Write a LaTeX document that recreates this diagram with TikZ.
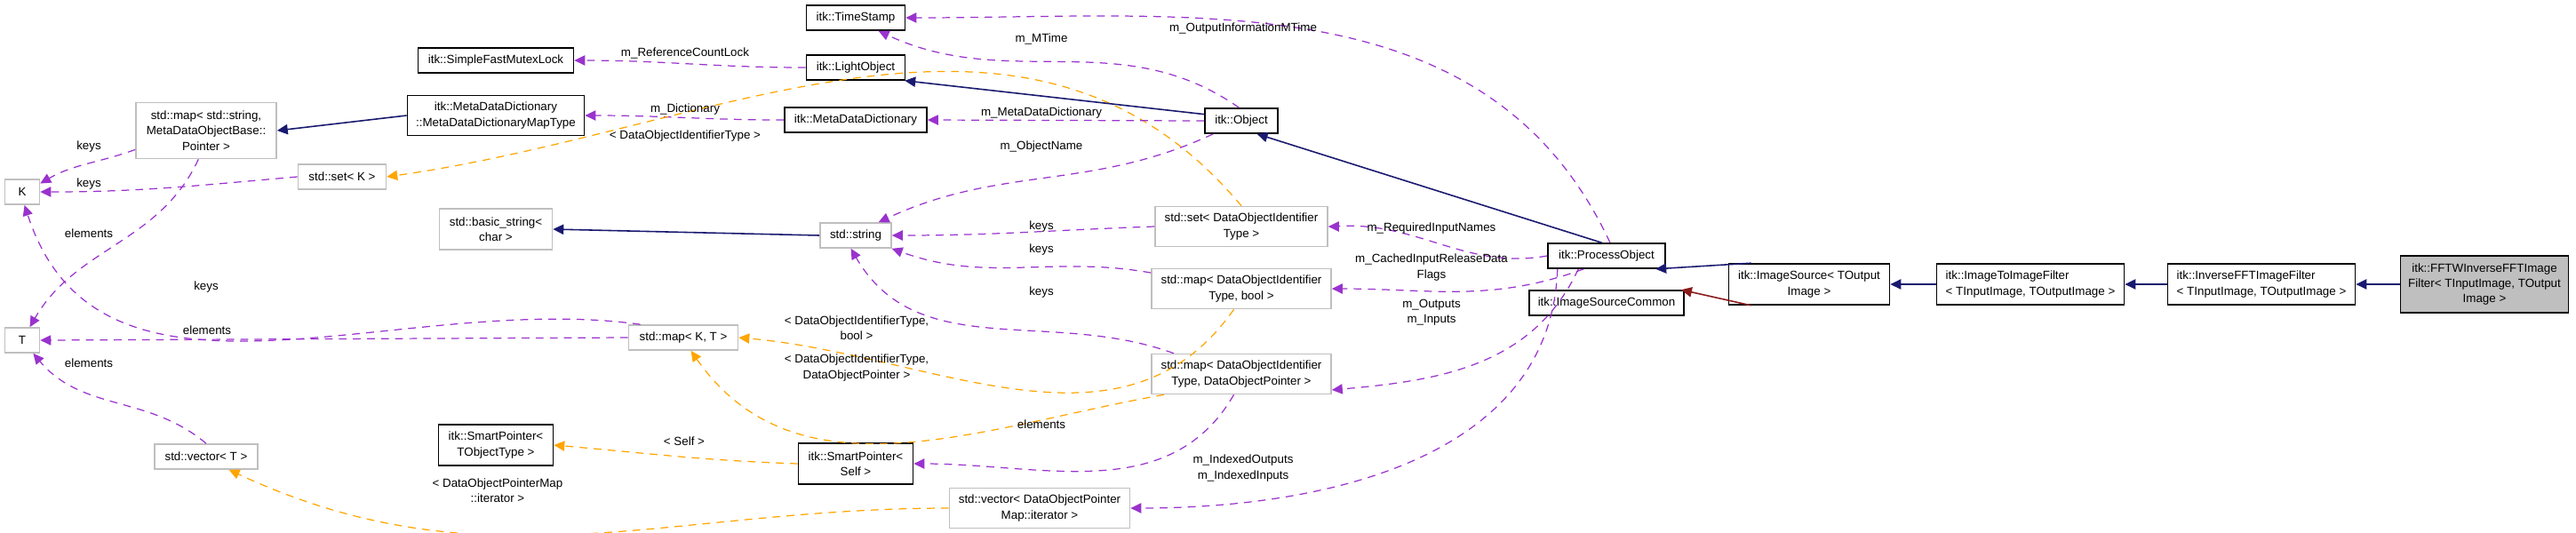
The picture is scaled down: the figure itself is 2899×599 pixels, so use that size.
\documentclass[tikz,border=0pt]{standalone}
\usepackage{fontspec}
\setmainfont{Liberation Sans}
\usetikzlibrary{arrows.meta}
\definecolor{pur}{HTML}{9A32CD}
\definecolor{org}{HTML}{FFA500}
\definecolor{nav}{HTML}{191970}
\definecolor{dred}{HTML}{8B1A1A}
\definecolor{gbord}{HTML}{BFBFBF}
\begin{document}
\begin{tikzpicture}[x=0.01cm,y=-0.01cm,
  every node/.style={font=\fontsize{3.8}{4.9}\selectfont,inner sep=0pt,align=center},
  box/.style={draw=black,line width=0.45pt,minimum height=0.28cm},
  sbox/.style={draw=gbord,line width=0.45pt,minimum height=0.28cm},
  tip/.style={-{Triangle[length=3.4pt,width=3.2pt]}},
  mem/.style={tip,draw=pur,fill=none,line width=0.35pt,dash pattern=on 2.5pt off 2pt,
     -{Triangle[length=3.4pt,width=3.2pt,fill=pur]}},
  tpl/.style={draw=org,line width=0.35pt,dash pattern=on 2.5pt off 2pt,
     -{Triangle[length=3.4pt,width=3.2pt,fill=org]}},
  inh/.style={draw=nav,line width=0.45pt,-{Triangle[length=3.4pt,width=3.2pt,fill=nav]}},
  prv/.style={draw=dred,line width=0.45pt,-{Triangle[length=3.4pt,width=3.2pt,fill=dred]}},
  lab/.style={}]
\useasboundingbox (0,0) rectangle (2899,599);
% nodes
\node[box,minimum width=1.75cm] (sfm) at (558,68) {itk::SimpleFastMutexLock};
\node[box,minimum width=1.99cm,minimum height=0.45cm] (mt) at (558,130) {itk::MetaDataDictionary\\::MetaDataDictionaryMapType};
\node[sbox,minimum width=1.58cm,minimum height=0.63cm] (smap) at (232,147) {std::map{<} std::string,\\MetaDataObjectBase::\\Pointer {>}};
\node[sbox,minimum width=0.39cm] (K) at (25,216) {K};
\node[sbox,minimum width=0.99cm] (setK) at (385,199) {std::set{<} K {>}};
\node[sbox,minimum width=1.27cm,minimum height=0.46cm] (bstr) at (558,258) {std::basic\_string{<}\\char {>}};
\node[sbox,minimum width=0.39cm] (T) at (25,383) {T};
\node[sbox,minimum width=1.23cm] (mapKT) at (769,380) {std::map{<} K, T {>}};
\node[box,minimum width=1.29cm,minimum height=0.46cm] (spT) at (558,501) {itk::SmartPointer{<}\\TObjectType {>}};
\node[sbox,minimum width=1.16cm] (vecT) at (232,514) {std::vector{<} T {>}};
\node[box,minimum width=1.11cm] (ts) at (963,20) {itk::TimeStamp};
\node[box,minimum width=1.11cm] (lo) at (963,76) {itk::LightObject};
\node[box,minimum width=1.60cm] (mdd) at (963,135) {itk::MetaDataDictionary};
\node[box,minimum width=0.82cm] (obj) at (1397,136) {itk::Object};
\node[sbox,minimum width=0.80cm] (str) at (963,265) {std::string};
\node[sbox,minimum width=1.94cm,minimum height=0.45cm] (setD) at (1397,255) {std::set{<} DataObjectIdentifier\\Type {>}};
\node[sbox,minimum width=2.02cm,minimum height=0.45cm] (mapB) at (1397,325) {std::map{<} DataObjectIdentifier\\Type, bool {>}};
\node[sbox,minimum width=2.02cm,minimum height=0.45cm] (mapP) at (1397,421) {std::map{<} DataObjectIdentifier\\Type, DataObjectPointer {>}};
\node[box,minimum width=1.29cm,minimum height=0.46cm] (spS) at (963,522) {itk::SmartPointer{<}\\Self {>}};
\node[sbox,minimum width=2.03cm,minimum height=0.45cm] (vecP) at (1170,572) {std::vector{<} DataObjectPointer\\Map::iterator {>}};
\node[box,minimum width=1.32cm] (po) at (1808,288) {itk::ProcessObject};
\node[box,minimum width=1.74cm] (isc) at (1808,341) {itk::ImageSourceCommon};
\node[box,minimum width=1.81cm,minimum height=0.46cm] (is) at (2036,320) {itk::ImageSource{<} TOutput\\Image {>}};
\node[box,minimum width=2.11cm,minimum height=0.46cm,align=left] (i2i) at (2285,320) {itk::ImageToImageFilter\\{<} TInputImage, TOutputImage {>}};
\node[box,minimum width=2.11cm,minimum height=0.46cm,align=left] (inv) at (2545,320) {itk::InverseFFTImageFilter\\{<} TInputImage, TOutputImage {>}};
\node[box,fill=gbord,minimum width=1.89cm,minimum height=0.64cm] (fftw) at (2796,320) {itk::FFTWInverseFFTImage\\Filter{<} TInputImage, TOutput\\Image {>}};
% edges
\draw[mem] (lo.west) to[out=180,in=0] (sfm.east);
\draw[mem] (mdd.west) to[out=180,in=0] (mt.east);
\draw[inh] (mt.west) -- (smap.east);
\draw[mem] (smap.195) to[out=200,in=30] (K.25);
\draw[mem] (smap.255) to[out=245,in=60] (T.60);
\draw[mem] (setK.west) to[out=185,in=0] (K.east);
\draw[tpl] (setD.north) to[out=130,in=8] (setK.east);
\draw[inh] (str.west) -- (bstr.east);
\draw[mem] (mapKT.163) to[out=172,in=-72] (K.-80);
\draw[mem] (mapKT.west) -- (T.east);
\draw[mem] (vecT.north) to[out=140,in=-50] (T.-50);
\draw[tpl] (mapB.250) to[out=-125,in=-5] (mapKT.east);
\draw[tpl] (mapP.195) to[out=190,in=-55] (mapKT.-60);
\draw[tpl] (spS.west) to[out=178,in=-5] (spT.east);
\draw[tpl] (vecP.west) to[out=180,in=-25] (vecT.-30);
\draw[mem] (obj.100) to[out=145,in=-25] (ts.-30);
\draw[mem] (po.75) to[out=115,in=0] (ts.east);
\draw[inh] (obj.170) -- (lo.-15);
\draw[mem] (obj.west) -- (mdd.east);
\draw[mem] (obj.205) to[out=205,in=25] (str.30);
\draw[mem] (setD.west) to[out=182,in=0] (str.east);
\draw[mem] (mapB.170) to[out=170,in=-20] (str.-20);
\draw[mem] (mapP.163) to[out=160,in=-60] (str.-110);
\draw[inh] (po.110) -- (obj.-40);
\draw[mem] (po.west) to[out=190,in=5] (mapB.east |- setD.east) -- (setD.east);
\draw[mem] (po.-150) to[out=200,in=0] (mapB.east);
\draw[mem] (po.-155) to[out=-115,in=5] (mapP.-10);
\draw[mem] (po.-165) to[out=-92,in=0] (vecP.east);
\draw[mem] (mapP.-110) to[out=-120,in=0] (spS.east);
\draw[inh] (is.160) -- (po.-15);
\draw[prv] (is.-160) -- (isc.10);
\draw[inh] (i2i.west) -- (is.east);
\draw[inh] (inv.west) -- (i2i.east);
\draw[inh] (fftw.west) -- (inv.east);
% labels
\node (l1) at (771,60) {m\_ReferenceCountLock};
\node (l2) at (771,123) {m\_Dictionary};
\node (l3) at (771,153) {{<} DataObjectIdentifierType {>}};
\node (l4) at (100,165) {keys};
\node (l5) at (100,207) {keys};
\node (l6) at (100,263) {elements};
\node (l7) at (232,323) {keys};
\node (l8) at (233,372) {elements};
\node (l9) at (100,409) {elements};
\node (l10) at (770,497) {{<} Self {>}};
\node (l11) at (560,552) {{<} DataObjectPointerMap\\::iterator {>}};
\node (l12) at (1399,32) {m\_OutputInformationMTime};
\node (l13) at (1172,44) {m\_MTime};
\node (l14) at (1172,127) {m\_MetaDataDictionary};
\node (l15) at (1172,165) {m\_ObjectName};
\node (l16) at (1172,255) {keys};
\node (l17) at (1172,281) {keys};
\node (l18) at (1172,329) {keys};
\node (l19) at (1611,257) {m\_RequiredInputNames};
\node (l20) at (1611,301) {m\_CachedInputReleaseData\\Flags};
\node (l21) at (1611,352) {m\_Outputs\\m\_Inputs};
\node (l22) at (964,369) {{<} DataObjectIdentifierType,\\bool {>}};
\node (l23) at (964,414) {{<} DataObjectIdentifierType,\\DataObjectPointer {>}};
\node (l24) at (1172,478) {elements};
\node (l25) at (1399,527) {m\_IndexedOutputs\\m\_IndexedInputs};
\end{tikzpicture}
\end{document}
